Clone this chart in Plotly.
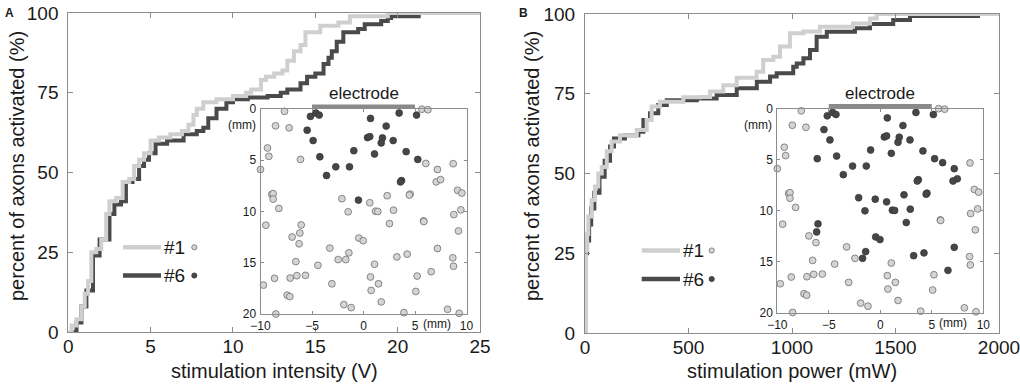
import plotly.graph_objects as go

# ---------------- data ----------------
# Panel A: cumulative % of axons activated vs stimulation intensity (V)
intA_1_x = [0, 0.2, 0.5, 0.8, 1.0, 1.2, 1.4, 1.7, 2.0, 2.3, 2.5, 2.9, 3.3, 3.7, 4.0, 4.3, 4.6, 5.0,
            5.5, 6.2, 6.9, 7.3, 7.6, 7.8, 8.2, 9.0, 10.0, 10.8, 11.1, 11.7, 12.0, 12.5, 13.0, 13.3,
            13.7, 14.1, 14.4, 15.3, 16.4, 17.1, 19.4, 25]
intA_1_y = [0, 2, 4, 8, 12, 16, 25, 26, 29, 37, 41, 42, 47, 48, 52, 54, 56, 60,
            61, 62, 63, 65, 68, 70, 72, 73, 74, 75, 76, 79, 80, 81, 82, 85,
            88, 90, 94, 96, 97, 99, 100, 100]
intA_6_x = [0.3, 0.5, 0.8, 1.1, 1.5, 1.9, 2.5, 2.8, 3.2, 3.5, 3.9, 4.3, 4.6, 4.9, 5.3, 6.0, 7.0,
            7.8, 8.2, 8.5, 9.0, 9.6, 10.0, 10.9, 12.1, 12.9, 13.3, 14.1, 14.5, 15.0, 15.5, 15.8,
            16.0, 16.3, 16.7, 17.6, 18.0, 19.0, 19.4, 19.6, 21.4]
intA_6_y = [0, 3, 8, 13, 24, 29, 37, 40, 41, 47, 48, 52, 54, 56, 59, 60, 62,
            63, 64, 67, 70, 72, 73, 73.5, 74, 75, 76, 78, 80, 81, 84, 86,
            88, 91, 94, 95, 96.5, 97.5, 98.4, 99, 99]

# Panel B: cumulative % of axons activated vs stimulation power (mW)
powB_1_x = [5, 5, 10, 16, 32, 48, 64, 81, 105, 129, 169, 250, 298, 322, 362, 475, 556, 604, 668,
            733, 829, 861, 910, 942, 990, 1055, 1135, 1295, 1377, 1409, 2000]
powB_1_y = [0, 26, 31, 36.5, 41.7, 45.9, 50, 52, 57, 60, 62, 63.6, 66.8, 71, 72.5, 73.9, 74, 75.7,
            77.7, 80, 81.9, 85.6, 86.6, 89.8, 94, 94.5, 96, 97, 98.6, 100, 100]
powB_6_x = [3, 3, 10, 20, 30, 45, 70, 95, 121, 140, 193, 258, 282, 314, 354, 395, 540, 636, 733,
            830, 894, 926, 1006, 1023, 1055, 1087, 1119, 1168, 1304, 1377, 1489, 1570, 1908]
powB_6_y = [0, 25, 29, 34, 39, 44, 49, 54, 58.5, 61, 62, 63.1, 66.8, 68.9, 71.5, 73, 73.5, 74.6,
            76.7, 78.8, 80.4, 81.4, 83.5, 84.5, 86.1, 88.7, 92.9, 94.4, 95.5, 96.9, 98.1, 99.4, 99.4]

# Axon positions (mm) and whether each electrode (#6) activates them in A / B
axon_x = [-5.15, -4.63, -4.30, -5.47, -4.89, -4.24, -6.12, -2.69, -3.59, -1.36, -0.94, 0.68, 0.39,
          0.61, 2.20, 1.84, 1.72, 2.88, 1.07, 3.46, 5.15, 4.14, 5.27, 6.05, 7.18, 7.06, 7.48, 3.69,
          3.59, 4.53, 4.45, 2.30, -2.10, -0.49, 0.61, -1.49, 1.17, 1.39, 2.91, 2.52, -6.05, -6.18,
          -0.45, -0.03, -1.42, -1.72, 3.24, 4.24, 7.18, 6.57,
          -7.67, 5.66, 6.25, -8.54, -7.22, -9.32, -9.19, -10.0, -8.90, -8.77, -8.77, -8.22, -9.48,
          -6.93, -6.25, -3.27, -6.57, -4.43, -2.46, 1.07, -7.12, -6.47, -5.63, -9.71, -8.64, -3.07,
          0.68, 0.74, 1.46, 5.08, 5.21, -7.41, -7.15, -1.91, -1.20, 1.72, -8.51, 3.92, 8.16, 9.29,
          8.71, 9.13, 9.55, 9.45, 8.77, 9.22, 5.83, 5.86, 8.67, 8.74]
axon_y = [0.72, 0.39, 0.59, 2.07, 3.08, 4.66, 4.92, 5.64, 6.49, 5.64, 4.07, 0.92, 2.79,
          2.69, 1.67, 2.82, 3.31, 3.08, 4.39, 0.39, 0.59, 4.16, 4.92, 5.31, 5.90, 7.11, 6.89, 6.98,
          7.11, 8.30, 8.40, 8.46, 8.75, 8.89, 9.15, 10.03, 9.97, 10.0, 9.87, 11.18, 11.31, 12.10,
          12.59, 12.85, 14.03, 14.69, 14.43, 14.16, 13.61, 15.87,
          0.23, 0.02, 0.07, 1.64, 1.84, 3.80, 4.62, 5.90, 8.33, 8.26, 8.79, 9.70, 11.34,
          12.49, 13.15, 13.57, 14.89, 15.25, 14.69, 15.15, 16.49, 16.26, 16.23, 17.18, 16.52, 17.05,
          16.39, 17.70, 17.05, 17.80, 16.30, 18.16, 18.30, 19.08, 19.38, 18.82, 20.0, 19.87, 19.54, 19.93,
          5.34, 7.93, 8.20, 9.84, 10.30, 11.90, 10.92, 10.98, 14.52, 15.34]
act_A = [1, 1, 1, 1, 1, 1, 0, 1, 1, 1, 1, 1, 1,
         1, 1, 1, 1, 1, 1, 1, 1, 1, 1, 0, 0, 0, 0, 1,
         1, 0, 0, 0, 0, 1, 0, 0, 0, 0, 0, 0, 0, 0,
         0, 0, 0, 0, 0, 0, 0, 0] + [0] * 50
act_B = [1] * 50 + [0] * 50

ticks_int = [0, 5, 10, 15, 20, 25]
ticks_pow = [0, 500, 1000, 1500, 2000]
ticks_pct = [0, 25, 50, 75, 100]
ticks_mm_x = [-10, -5, 0, 5, 10]
ticks_mm_y = [0, 5, 10, 15, 20]

# ---------------- styling ----------------
W, H = 1020, 386
FONT = "Liberation Sans, Arial, sans-serif"
LIGHT = "#cfcfcf"
DARK = "#4a4a4a"
AXC = "#8c8c8c"
TXT = "#1a1a1a"


def px(x):
    return x / W


def py(y):
    return 1 - y / H


fig = go.Figure()

# main curves (dark first, light drawn on top)
fig.add_trace(go.Scatter(x=intA_6_x, y=intA_6_y, mode="lines",
                         line=dict(color=DARK, width=4, shape="hv"), xaxis="x", yaxis="y"))
fig.add_trace(go.Scatter(x=intA_1_x, y=intA_1_y, mode="lines",
                         line=dict(color=LIGHT, width=4, shape="hv"), xaxis="x", yaxis="y"))
fig.add_trace(go.Scatter(x=powB_6_x, y=powB_6_y, mode="lines",
                         line=dict(color=DARK, width=4, shape="hv"), xaxis="x2", yaxis="y2"))
fig.add_trace(go.Scatter(x=powB_1_x, y=powB_1_y, mode="lines",
                         line=dict(color=LIGHT, width=4, shape="hv"), xaxis="x2", yaxis="y2"))

# inset dots
for act, xa, ya in [(act_A, "x3", "y3"), (act_B, "x4", "y4")]:
    fills = ["#464646" if a else "#d4d4d4" for a in act]
    lines = ["#3a3a3a" if a else "#6e6e6e" for a in act]
    fig.add_trace(go.Scatter(x=axon_x, y=axon_y, mode="markers", cliponaxis=False,
                             marker=dict(size=6.8, color=fills, line=dict(color=lines, width=0.8)),
                             xaxis=xa, yaxis=ya))

main_ax = dict(showline=True, linecolor=AXC, linewidth=1, mirror="ticks", ticks="inside",
               ticklen=5, tickcolor=AXC, showgrid=False, zeroline=False, automargin=False,
               ticklabeloverflow="allow",
               tickfont=dict(family=FONT, size=19, color=TXT))
inset_ax = dict(showline=True, linecolor=AXC, linewidth=1, mirror="ticks", ticks="inside",
                ticklen=3, tickcolor=AXC, showgrid=False, zeroline=False, automargin=False,
                ticklabeloverflow="allow",
                tickfont=dict(family=FONT, size=12, color=TXT), ticklabelstandoff=1)

A_dom_x = [px(68.3), px(480)]
A_dom_y = [py(332), py(13)]
B_dom_x = [px(585), px(999)]
B_dom_y = [py(333), py(14)]
IA_dom_x = [px(260.5), px(466.5)]
IA_dom_y = [py(314), py(109)]
IB_dom_x = [px(777.3), px(983.3)]
IB_dom_y = [py(312.5), py(108.5)]

fig.update_layout(
    width=W, height=H, margin=dict(l=0, r=0, t=0, b=0, autoexpand=False),
    paper_bgcolor="white", plot_bgcolor="white", showlegend=False,
    font=dict(family=FONT, color=TXT),
    xaxis=dict(main_ax, domain=A_dom_x, range=[0, 25], tickvals=ticks_int, anchor="y", ticklabelstandoff=-3),
    yaxis=dict(main_ax, domain=A_dom_y, range=[0, 100], tickvals=ticks_pct, anchor="x", ticklabelstandoff=5),
    xaxis2=dict(main_ax, domain=B_dom_x, range=[0, 2000], tickvals=ticks_pow, anchor="y2", ticklabelstandoff=-3),
    yaxis2=dict(main_ax, domain=B_dom_y, range=[0, 100], tickvals=ticks_pct, anchor="x2", ticklabelstandoff=5),
    xaxis3=dict(inset_ax, domain=IA_dom_x, range=[-10, 10], tickvals=ticks_mm_x, anchor="y3"),
    yaxis3=dict(inset_ax, domain=IA_dom_y, range=[20, 0], tickvals=ticks_mm_y, anchor="x3"),
    xaxis4=dict(inset_ax, domain=IB_dom_x, range=[-10, 10], tickvals=ticks_mm_x, anchor="y4"),
    yaxis4=dict(inset_ax, domain=IB_dom_y, range=[20, 0], tickvals=ticks_mm_y, anchor="x4"),
)

ann = []
shapes = []

# axis titles
ann.append(dict(text="stimulation intensity (V)", x=px(274), y=py(371), xref="paper", yref="paper",
                showarrow=False, font=dict(size=20, family=FONT, color=TXT), xanchor="center", yanchor="middle"))
ann.append(dict(text="stimulation power (mW)", x=px(792), y=py(371), xref="paper", yref="paper",
                showarrow=False, font=dict(size=20, family=FONT, color=TXT), xanchor="center", yanchor="middle"))
for xc in (17, 532):
    ann.append(dict(text="percent of axons activated (%)", x=px(xc), y=py(166), xref="paper", yref="paper",
                    showarrow=False, textangle=-90, font=dict(size=20, family=FONT, color=TXT),
                    xanchor="center", yanchor="middle"))

# panel letters
ann.append(dict(text="<b>A</b>", x=px(3), y=py(4), xref="paper", yref="paper", showarrow=False,
                font=dict(size=12, family=FONT, color=TXT), xanchor="left", yanchor="top"))
ann.append(dict(text="<b>B</b>", x=px(517), y=py(4), xref="paper", yref="paper", showarrow=False,
                font=dict(size=12, family=FONT, color=TXT), xanchor="left", yanchor="top"))

# inset decorations: electrode bar, labels, (mm) units
for xa, ya in [("x3", "y3"), ("x4", "y4")]:
    shapes.append(dict(type="line", xref=xa, yref=ya + " domain", x0=-5, x1=5, y0=1.012, y1=1.012,
                       line=dict(color="#8a8a8a", width=4)))
    ann.append(dict(text="electrode", x=0, y=1, xref=xa, yref=ya + " domain", showarrow=False,
                    yanchor="bottom", xanchor="center", yshift=4,
                    font=dict(size=17, family=FONT, color=TXT)))
    ann.append(dict(text="(mm)", x=7.1, y=0, xref=xa, yref=ya + " domain", showarrow=False,
                    yanchor="top", xanchor="center", yshift=-1,
                    font=dict(size=12, family=FONT, color=TXT)))
    ann.append(dict(text="(mm)", x=0, y=1.6, xref=xa + " domain", yref=ya, showarrow=False,
                    yanchor="middle", xanchor="right", xshift=-3,
                    font=dict(size=12, family=FONT, color=TXT)))

# legends
for (x0, x1, tx, cx, y1, y6) in [(123, 161, 162, 194.3, 247.3, 275.5), (641.7, 680, 681, 711.7, 250.5, 279)]:
    for (yy, col, lab, fill, edge) in [(y1, LIGHT, "#1", "#d4d4d4", "#6e6e6e"), (y6, DARK, "#6", "#464646", "#3a3a3a")]:
        shapes.append(dict(type="line", xref="paper", yref="paper", x0=px(x0), x1=px(x1), y0=py(yy), y1=py(yy),
                           line=dict(color=col, width=4.5)))
        ann.append(dict(text=lab, x=px(tx), y=py(yy), xref="paper", yref="paper", showarrow=False,
                        xanchor="left", yanchor="middle", font=dict(size=19, family=FONT, color=TXT)))
        shapes.append(dict(type="circle", xref="paper", yref="paper", x0=px(cx - 2.6), x1=px(cx + 2.6),
                           y0=py(yy + 2.6), y1=py(yy - 2.6), fillcolor=fill, line=dict(color=edge, width=0.8)))

fig.update_layout(annotations=ann, shapes=shapes)
fig.write_html("out.html", config={"displayModeBar": False},
               post_script="document.body.style.margin='0';document.body.style.overflow='hidden';")
